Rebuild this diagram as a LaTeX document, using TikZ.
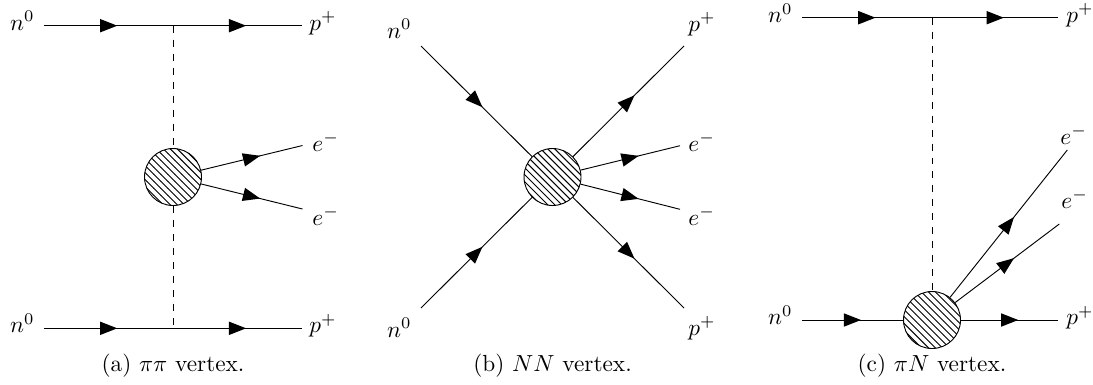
\documentclass[tikz,border=0pt]{standalone}
\usetikzlibrary{patterns,decorations.markings}
\tikzset{
  fermion/.style={postaction={decorate},
    decoration={markings, mark=at position 0.5 with {\fill (3.7pt,0) -- (-3.7pt,2.9pt) -- (-3.7pt,-2.9pt) -- cycle;}}},
  scalar/.style={dashed},
  blob/.style={circle, draw, fill=white, minimum size=24.46pt, inner sep=0pt,
    postaction={pattern=north west lines}},
  lblw/.style={inner sep=0pt, anchor=base west},
  lble/.style={inner sep=0pt, anchor=base east},
  capt/.style={inner sep=0pt, anchor=base},
}
\begin{document}
\begin{tikzpicture}[x=0.4292pt, y=-0.4292pt, line width=0.4pt]
\useasboundingbox (0,0) rectangle (1093,384);

% ---------- (a) pi pi vertex ----------
\node[blob] (ab) at (173,177) {};
\coordinate (a1) at (44.3,25.7);
\coordinate (av1) at (173,25.7);
\coordinate (a2) at (302,25.7);
\coordinate (a3) at (44.3,328.3);
\coordinate (av2) at (173,328.3);
\coordinate (a4) at (302,328.3);
\coordinate (ae1) at (302.5,145.5);
\coordinate (ae2) at (302.5,209);
\draw[fermion] (a1) -- (av1);
\draw[fermion] (av1) -- (a2);
\draw[fermion] (a3) -- (av2);
\draw[fermion] (av2) -- (a4);
\draw[scalar] (av1) -- (ab);
\draw[scalar] (ab) -- (av2);
\draw[fermion] (ab) -- (ae1);
\draw[fermion] (ab) -- (ae2);
\node[lble] (an1) at (35,30) {$n^0$};
\node[lble] (an2) at (35,332.6) {$n^0$};
\node[lblw] (ap1) at (309,30) {$p^+$};
\node[lblw] (ap2) at (309,332.6) {$p^+$};
\node[lblw] (aee1) at (312,151) {$e^-$};
\node[lblw] (aee2) at (312,225) {$e^-$};
\node[capt] (acap) at (173,371) {(a) $\pi\pi$ vertex.};

% ---------- (b) NN vertex ----------
\node[blob] (bb) at (552.5,177) {};
\coordinate (b1) at (421,46);
\coordinate (b2) at (684,46);
\coordinate (b3) at (421,308);
\coordinate (b4) at (684,308);
\coordinate (be1) at (680,145.7);
\coordinate (be2) at (680,209.3);
\draw[fermion] (b1) -- (bb);
\draw[fermion] (b3) -- (bb);
\draw[fermion] (bb) -- (b2);
\draw[fermion] (bb) -- (b4);
\draw[fermion] (bb) -- (be1);
\draw[fermion] (bb) -- (be2);
\node[lble] (bn1) at (412,38) {$n^0$};
\node[lble] (bn2) at (412,337) {$n^0$};
\node[lblw] (bp1) at (688,31) {$p^+$};
\node[lblw] (bp2) at (688,335) {$p^+$};
\node[lblw] (bee1) at (688,151) {$e^-$};
\node[lblw] (bee2) at (688,225) {$e^-$};
\node[capt] (bcap) at (552.5,371) {(b) $NN$ vertex.};

% ---------- (c) pi N vertex ----------
\node[blob] (cb) at (932,320) {};
\coordinate (c1) at (801.7,17.7);
\coordinate (cv) at (932,17.7);
\coordinate (c2) at (1058.3,17.7);
\coordinate (c3) at (801.7,320);
\coordinate (c4) at (1058.3,320);
\coordinate (ce1) at (1067.3,150);
\coordinate (ce2) at (1059.3,224);
\draw[fermion] (c1) -- (cv);
\draw[fermion] (cv) -- (c2);
\draw[scalar] (cv) -- (cb);
\draw[fermion] (c3) -- (cb);
\draw[fermion] (cb) -- (c4);
\draw[fermion] (cb) -- (ce1);
\draw[fermion] (cb) -- (ce2);
\node[lble] (cn1) at (793,22.5) {$n^0$};
\node[lble] (cn2) at (793,324.5) {$n^0$};
\node[lblw] (cp1) at (1066,22) {$p^+$};
\node[lblw] (cp2) at (1066,324.5) {$p^+$};
\node[lblw] (cee1) at (1060,144) {$e^-$};
\node[lblw] (cee2) at (1061,208) {$e^-$};
\node[capt] (ccap) at (932,371) {(c) $\pi N$ vertex.};
\end{tikzpicture}
\end{document}
